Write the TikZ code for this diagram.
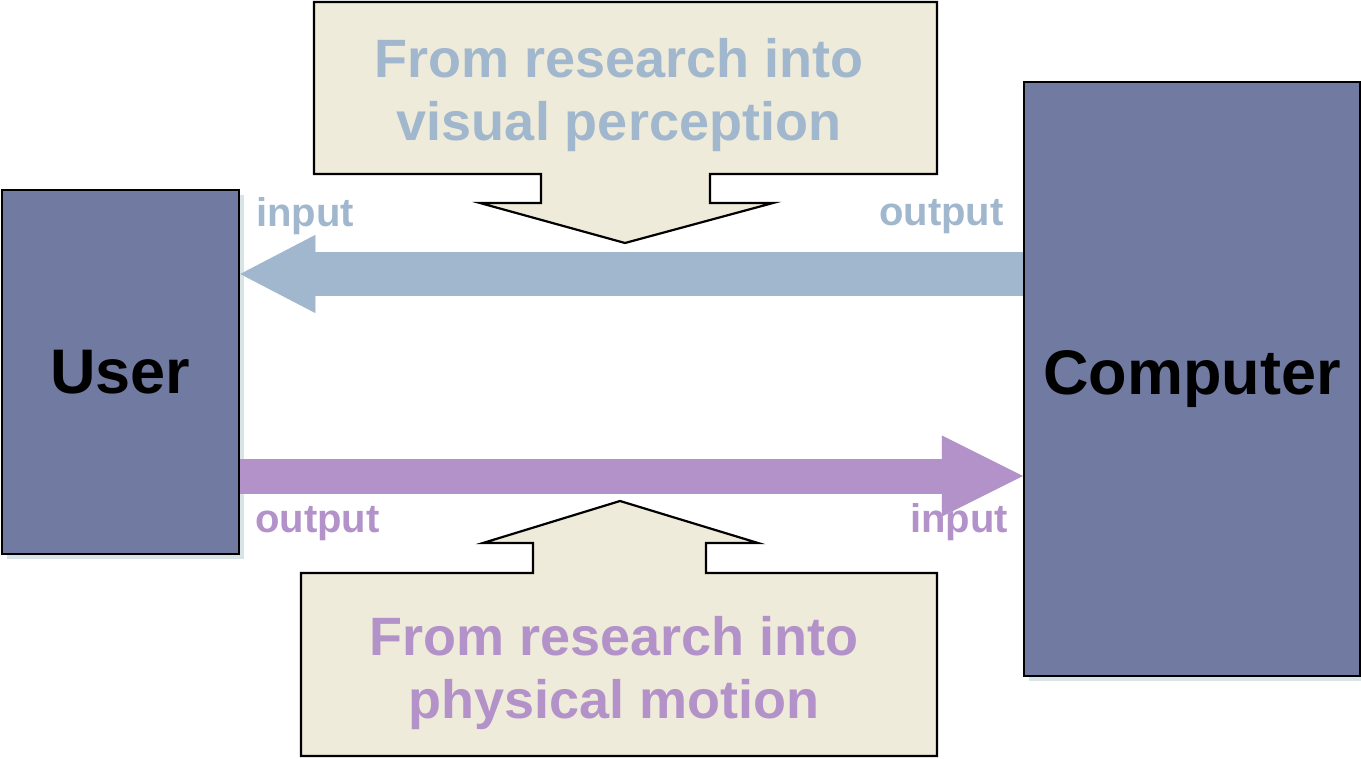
\documentclass[tikz,border=0pt]{standalone}
\usepackage{fontspec}
\setmainfont{Liberation Sans}
\usetikzlibrary{arrows.meta}
\definecolor{boxfill}{HTML}{717AA0}
\definecolor{shadowc}{HTML}{D8E4E6}
\definecolor{bluec}{HTML}{A0B7CD}
\definecolor{purplec}{HTML}{B292C8}
\definecolor{callfill}{HTML}{EFEBDA}
\begin{document}
\begin{tikzpicture}[x=1pt,y=-1pt,
  box/.style={draw=black, line width=2.5pt, fill=boxfill, inner sep=0pt,
    font=\fontsize{63}{70}\selectfont\bfseries},
  callout/.style={draw=black, line width=2.2pt, fill=callfill, line join=miter},
  calltext/.style={align=center, inner sep=0pt, font=\fontsize{54}{63}\selectfont\bfseries},
  lbl/.style={inner sep=0pt, anchor=base west, font=\fontsize{40}{45}\selectfont\bfseries},
  blockarrow/.style={line width=#1, line cap=butt}
]
\useasboundingbox (0,0) rectangle (1361,759);

% shadows of boxes
\fill[shadowc] (7,195) rectangle (244,559);
\fill[shadowc] (1029,87) rectangle (1361,681);

% boxes
\node[box, minimum width=237pt, minimum height=364pt] (user) at (120.5,372) {User};
\node[box, minimum width=336pt, minimum height=594pt] (computer) at (1192,379) {Computer};

% callouts
\draw[callout] (314,2) -- (937,2) -- (937,174) -- (710,174) -- (710,203) -- (773,203)
  -- (625,243) -- (480,203) -- (541,203) -- (541,174) -- (314,174) -- cycle;
\node[calltext, text=bluec] (vis) at (619,95) {From research into\\visual perception};

\draw[callout] (301,573) -- (533,573) -- (533,543) -- (483,543) -- (620,501) -- (758,543)
  -- (706,543) -- (706,573) -- (937,573) -- (937,756) -- (301,756) -- cycle;
\node[calltext, text=purplec] (phys) at (614,673) {From research into\\physical motion};

% labels
\node[lbl, text=bluec] (inL) at (256,227) {input};
\node[lbl, text=bluec] (outR) at (879,226) {output};
\node[lbl, text=purplec] (outL) at (255,532) {output};
\node[lbl, text=purplec] (inR) at (910,532) {input};

% arrow anchor coordinates
\coordinate (by) at (0,274);
\coordinate (py) at (0,476);

% blue arrow (computer -> user)
\begin{scope}[shift={(4,5)}]
\draw[blockarrow=44pt, shadowc, -{Triangle[length=75pt,width=78pt,line width=0pt]}]
  (computer.west |- by) -- (user.east |- by);
\end{scope}
\draw[blockarrow=44pt, bluec, -{Triangle[length=75pt,width=78pt,line width=0pt]}]
  (computer.west |- by) -- (user.east |- by);

% purple arrow (user -> computer)
\begin{scope}[shift={(4,5)}]
\draw[blockarrow=35pt, shadowc, -{Triangle[length=81pt,width=81pt,line width=0pt]}]
  (user.east |- py) -- (computer.west |- py);
\end{scope}
\draw[blockarrow=35pt, purplec, -{Triangle[length=81pt,width=81pt,line width=0pt]}]
  (user.east |- py) -- (computer.west |- py);
\end{tikzpicture}
\end{document}
